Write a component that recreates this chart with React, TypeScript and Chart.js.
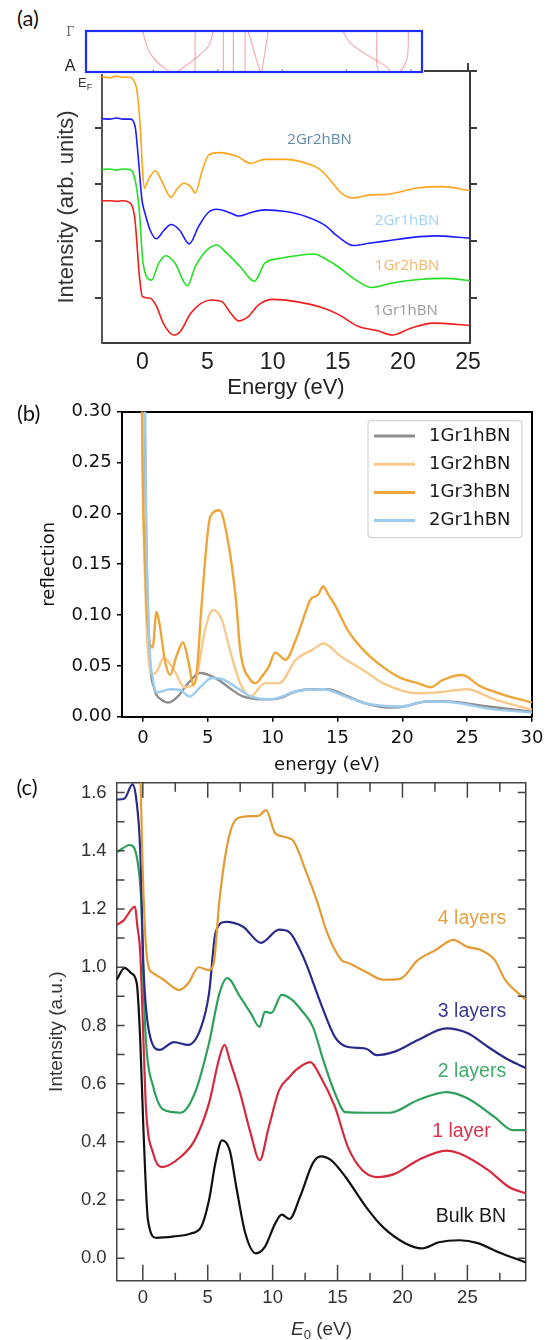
import React, { useEffect, useRef } from "react";
import { Chart, registerables } from "chart.js";

Chart.register(...registerables);

// ---------------- Panel (a) data ----------------
const a_xTicks = [0, 5, 10, 15, 20, 25];
const a_yTicks = [0.8, 1.8, 2.8, 3.8];
const a_yTicksRight = [0.8, 1.8, 2.8, 3.8, 4.8];

const a_2Gr2_x = [-3.1, -2.5, -2.0, -1.5, -0.93, -0.6, -0.42, -0.16, 0.0, 0.15, 0.45, 1.0, 1.5, 2.2, 2.7, 3.2, 3.7, 4.06, 4.6, 5.1, 5.9, 7.3, 8.3, 9.4, 11, 12.6, 13.7, 14.5, 15.3, 16.1, 17.4, 19, 21.2, 23, 25.15];
const a_2Gr2_y = [4.70, 4.68, 4.71, 4.69, 4.69, 4.60, 4.46, 3.81, 3.10, 2.73, 2.88, 3.04, 2.85, 2.57, 2.73, 2.82, 2.76, 2.65, 3.05, 3.32, 3.36, 3.29, 3.17, 3.24, 3.24, 3.17, 3.05, 2.85, 2.64, 2.56, 2.61, 2.63, 2.74, 2.76, 2.69];

const a_2Gr1_x = [-3.1, -2.5, -2, -1.5, -0.93, -0.55, -0.3, -0.03, 0.2, 0.6, 1.07, 1.66, 2.2, 2.86, 3.6, 4.3, 5, 5.7, 6.7, 7.4, 8.3, 9.4, 11, 12.6, 14, 15, 16.2, 17.4, 19, 20.6, 22.4, 25.15];
const a_2Gr1_y = [3.96, 3.95, 3.97, 3.95, 3.95, 3.81, 3.23, 2.52, 2.29, 1.99, 1.84, 1.99, 2.09, 1.99, 1.75, 2.05, 2.29, 2.36, 2.30, 2.24, 2.30, 2.35, 2.32, 2.23, 2.08, 1.88, 1.72, 1.76, 1.81, 1.86, 1.89, 1.85];

const a_1Gr2_x = [-3.1, -2.5, -2, -1.5, -0.93, -0.55, -0.24, 0.05, 0.7, 1.26, 1.8, 2.5, 3.45, 4.06, 4.6, 5.1, 5.7, 6.5, 7.5, 8.6, 9.4, 10.5, 11.8, 13.2, 14, 15, 16.4, 17.6, 19, 21.2, 23.3, 25.15];
const a_1Gr2_y = [3.06, 3.07, 3.05, 3.07, 3.06, 2.87, 2.35, 1.41, 1.11, 1.41, 1.54, 1.41, 1.01, 1.35, 1.55, 1.67, 1.73, 1.58, 1.35, 1.09, 1.41, 1.49, 1.54, 1.57, 1.49, 1.35, 1.11, 0.98, 1.05, 1.12, 1.14, 1.10];

const a_1Gr1_x = [-3.1, -2.5, -2, -1.5, -1.1, -0.6, -0.2, 0, 0.6, 1.1, 1.6, 2.4, 2.9, 3.7, 4.5, 5.3, 6.1, 6.8, 7.4, 8.1, 8.9, 10, 11.8, 13.7, 15, 16.6, 18, 19.2, 20.6, 22.3, 25.15];
const a_1Gr1_y = [2.51, 2.51, 2.50, 2.51, 2.49, 2.23, 1.11, 0.82, 0.79, 0.64, 0.35, 0.14, 0.20, 0.52, 0.70, 0.76, 0.73, 0.52, 0.39, 0.46, 0.67, 0.77, 0.73, 0.63, 0.51, 0.29, 0.22, 0.14, 0.26, 0.35, 0.31];

// band-structure inset (k along Γ–A, vertical 0 = A, 1 = Γ)
const bandTicks = [1, 2, 3, 4, 5];
const band1_x = [0.835, 0.922, 1.053, 1.26];
const band1_y = [1, 0.54, 0.25, 0];
const band2_x = [1.932, 1.87, 1.725, 1.519, 1.363];
const band2_y = [1, 0.67, 0.42, 0.17, 0];
const band3_x = [1.648, 1.648];
const band3_y = [1, 0];
const band4_x = [2.087, 2.087];
const band4_y = [1, 0];
const band5_x = [2.242, 2.242];
const band5_y = [1, 0];
const band6_x = [2.424, 2.424];
const band6_y = [1, 0];
const band7_x = [2.47, 2.657];
const band7_y = [1, 0];
const band8_x = [2.786, 2.683];
const band8_y = [1, 0];
const band9_x = [3.941, 4.055, 4.314, 4.624, 4.675];
const band9_y = [1, 0.71, 0.42, 0.125, 0];
const band10_x = [4.469, 4.469, 4.494];
const band10_y = [1, 0.2, 0];
const band11_x = [4.96, 4.944, 4.882, 4.82];
const band11_y = [1, 0.375, 0.125, 0];

// ---------------- Panel (b) data ----------------
const b_xTicks = [0, 5, 10, 15, 20, 25, 30];
const b_yTicks = [0, 0.05, 0.1, 0.15, 0.2, 0.25, 0.3];

const b_1Gr1_x = [-0.05, 0.15, 0.45, 0.9, 1.4, 2.0, 2.7, 3.5, 4.4, 5.6, 6.7, 7.7, 9.4, 10.5, 11.8, 13.1, 14.2, 15.8, 17.2, 19, 20.2, 21.8, 23.4, 26.6, 30];
const b_1Gr1_y = [0.8, 0.3, 0.08, 0.027, 0.017, 0.014, 0.02, 0.033, 0.043, 0.038, 0.028, 0.020, 0.017, 0.018, 0.025, 0.027, 0.027, 0.020, 0.013, 0.009, 0.010, 0.015, 0.015, 0.010, 0.005];

const b_1Gr2_x = [-0.2, -0.05, 0.2, 0.5, 0.8, 1.1, 1.6, 2.4, 3.2, 4.0, 4.8, 5.4, 6.1, 6.7, 7.5, 8.3, 9.4, 10.5, 11.8, 13.1, 13.9, 15.3, 17.2, 18.5, 21.2, 22.8, 25, 27.1, 30];
const b_1Gr2_y = [0.7, 0.3, 0.12, 0.05, 0.042, 0.045, 0.058, 0.046, 0.029, 0.033, 0.086, 0.105, 0.095, 0.066, 0.033, 0.020, 0.033, 0.033, 0.056, 0.066, 0.072, 0.059, 0.044, 0.033, 0.023, 0.024, 0.027, 0.017, 0.007];

const b_1Gr3_x = [-0.2, -0.06, 0.15, 0.45, 0.75, 1.05, 1.3, 1.7, 2.1, 2.6, 3.1, 3.5, 3.9, 4.2, 4.5, 5.2, 5.9, 6.5, 7.2, 7.5, 8.3, 8.7, 9.2, 9.7, 10.2, 11, 11.8, 12.6, 12.9, 13.5, 13.9, 14.3, 14.8, 15.8, 17.2, 18.5, 19.9, 21.2, 22.2, 23.1, 24.6, 26, 27.7, 30];
const b_1Gr3_y = [0.7, 0.3, 0.16, 0.08, 0.068, 0.103, 0.09, 0.055, 0.041, 0.06, 0.073, 0.055, 0.031, 0.05, 0.105, 0.197, 0.203, 0.177, 0.112, 0.066, 0.036, 0.033, 0.04, 0.049, 0.063, 0.056, 0.076, 0.105, 0.115, 0.12, 0.128, 0.12, 0.11, 0.085, 0.063, 0.049, 0.038, 0.033, 0.029, 0.036, 0.041, 0.030, 0.022, 0.014];

const b_2Gr1_x = [0.0, 0.17, 0.45, 0.8, 1.05, 2.1, 2.9, 3.6, 4.5, 5.3, 6.1, 7.3, 8.3, 9.9, 11.8, 13.9, 15.8, 17.2, 19.9, 21.8, 24, 26.6, 30];
const b_2Gr1_y = [0.8, 0.3, 0.09, 0.035, 0.024, 0.027, 0.026, 0.020, 0.030, 0.038, 0.037, 0.028, 0.020, 0.017, 0.025, 0.027, 0.019, 0.013, 0.010, 0.015, 0.014, 0.008, 0.004];

// ---------------- Panel (c) data ----------------
const c_xTicks = [0, 5, 10, 15, 20, 25];
const c_xMinor = [2.5, 7.5, 12.5, 17.5, 22.5, 27.5];
const c_yTicks = [0, 0.2, 0.4, 0.6, 0.8, 1.0, 1.2, 1.4, 1.6];
const c_yMinor = [0, 0.1, 0.2, 0.3, 0.4, 0.5, 0.6, 0.7, 0.8, 0.9, 1.0, 1.1, 1.2, 1.3, 1.4, 1.5, 1.6];

const c_bulk_x = [-2.02, -1.4, -0.9, -0.47, -0.2, 0.05, 0.4, 1.05, 2.4, 3.7, 4.5, 5.1, 5.6, 6.1, 6.7, 7.2, 7.9, 8.7, 9.4, 10.2, 10.7, 11.3, 12.1, 13.1, 13.7, 14.5, 15.6, 17.2, 18.5, 20.2, 21.5, 22.8, 24.4, 25.8, 27.4, 29.5];
const c_bulk_y = [0.957, 0.998, 0.98, 0.946, 0.75, 0.44, 0.13, 0.07, 0.075, 0.085, 0.108, 0.2, 0.33, 0.405, 0.37, 0.245, 0.085, 0.017, 0.039, 0.12, 0.15, 0.135, 0.21, 0.327, 0.35, 0.337, 0.28, 0.176, 0.107, 0.052, 0.034, 0.055, 0.062, 0.052, 0.021, -0.014];

const c_1L_x = [-2.02, -1.5, -0.6, -0.42, -0.2, 0.1, 0.25, 0.8, 1.45, 2.9, 4.0, 5.1, 5.9, 6.3, 6.7, 7.5, 8.3, 9.0, 9.7, 10.5, 11.3, 11.8, 12.9, 13.7, 14.8, 15.8, 16.9, 18, 19.4, 21.2, 23.4, 24.4, 26.6, 28.2, 29.5];
const c_1L_y = [1.145, 1.16, 1.208, 1.14, 1.05, 0.68, 0.51, 0.36, 0.313, 0.348, 0.406, 0.533, 0.69, 0.733, 0.68, 0.567, 0.43, 0.337, 0.45, 0.578, 0.623, 0.647, 0.674, 0.623, 0.52, 0.382, 0.303, 0.279, 0.29, 0.337, 0.37, 0.36, 0.303, 0.245, 0.223];

const c_2L_x = [-2.02, -1.0, -0.3, -0.1, 0.05, 0.25, 0.8, 1.6, 2.9, 4.0, 5.1, 5.9, 6.5, 7.5, 8.3, 9.0, 9.4, 9.9, 10.7, 11.5, 12.2, 13.1, 13.9, 14.8, 15.6, 17.2, 19, 21.2, 23.4, 25, 27.1, 28.5, 29.5];
const c_2L_y = [1.394, 1.42, 1.33, 1.2, 0.95, 0.74, 0.59, 0.51, 0.5, 0.567, 0.74, 0.91, 0.963, 0.898, 0.843, 0.795, 0.847, 0.843, 0.905, 0.888, 0.853, 0.795, 0.681, 0.567, 0.502, 0.5, 0.5, 0.544, 0.571, 0.55, 0.485, 0.44, 0.44];

const c_3L_x = [-2.02, -1.4, -0.8, -0.5, -0.2, 0.05, 0.5, 1.3, 2.4, 3.5, 4.5, 5.1, 5.6, 6.4, 7.7, 9.1, 10.5, 11.3, 12.1, 12.6, 13.1, 13.7, 14.8, 15.8, 17.2, 18, 19.4, 21.2, 23.4, 25, 26.6, 28.2, 29.5];
const c_3L_y = [1.576, 1.58, 1.628, 1.576, 1.4, 1.0, 0.774, 0.716, 0.743, 0.733, 0.795, 0.91, 1.118, 1.156, 1.14, 1.084, 1.129, 1.12, 1.06, 1.01, 0.95, 0.877, 0.76, 0.726, 0.72, 0.698, 0.71, 0.75, 0.79, 0.774, 0.726, 0.681, 0.654];

const c_4L_x = [-0.25, -0.05, 0.2, 0.45, 0.8, 1.6, 2.8, 3.5, 4.3, 5.1, 5.5, 5.9, 6.7, 7.7, 8.9, 9.5, 10.2, 11.5, 12.6, 13.4, 14.2, 15.3, 15.8, 17.2, 18.5, 19.8, 21.2, 22.6, 23.9, 25, 26, 27.1, 27.9, 29.5];
const c_4L_y = [1.8, 1.4, 1.1, 1.0, 0.98, 0.957, 0.922, 0.945, 1.0, 0.99, 1.025, 1.23, 1.46, 1.517, 1.52, 1.54, 1.46, 1.438, 1.325, 1.23, 1.118, 1.025, 1.015, 0.984, 0.957, 0.96, 1.025, 1.06, 1.094, 1.07, 1.06, 1.025, 0.957, 0.888];

// ---------------- helpers ----------------
const FA = "'Liberation Sans', Arial, sans-serif";
const FD = "'DejaVu Sans', sans-serif";

const pts = (xs: number[], ys: number[]) => xs.map((x, i) => ({ x, y: ys[i] }));

function line(label: string, xs: number[], ys: number[], color: string, width: number, extra: any = {}) {
  return {
    label,
    data: pts(xs, ys),
    borderColor: color,
    backgroundColor: color,
    borderWidth: width,
    pointRadius: 0,
    pointHoverRadius: 0,
    showLine: true,
    fill: false,
    cubicInterpolationMode: "monotone",
    borderJoinStyle: "round",
    ...extra,
  };
}

const tickList = (vals: number[]) => (s: any) => {
  s.ticks = vals.map((v) => ({ value: v }));
};
const fixSize = (w?: number, h?: number) => (s: any) => {
  if (w !== undefined) s.width = w;
  if (h !== undefined) s.height = h;
  s.paddingLeft = 0;
  s.paddingRight = 0;
  s.paddingTop = 0;
  s.paddingBottom = 0;
};

const common = {
  animation: false,
  responsive: false,
  maintainAspectRatio: false,
  devicePixelRatio: 1,
  events: [],
  layout: { padding: 0 },
  plugins: { legend: { display: false }, tooltip: { enabled: false }, title: { display: false } },
};

type TickSpec = { scale: string; side: string; values: number[]; len: number };
const innerTicks = (specs: TickSpec[], color: string, width: number) => ({
  id: "innerTicks",
  afterDatasetsDraw(chart: any) {
    const ctx = chart.ctx;
    const a = chart.chartArea;
    ctx.save();
    ctx.strokeStyle = color;
    ctx.lineWidth = width;
    ctx.beginPath();
    for (const sp of specs) {
      const sc = chart.scales[sp.scale];
      for (const v of sp.values) {
        const p = sc.getPixelForValue(v);
        if (sp.side === "bottom") { ctx.moveTo(p, a.bottom); ctx.lineTo(p, a.bottom - sp.len); }
        else if (sp.side === "top") { ctx.moveTo(p, a.top); ctx.lineTo(p, a.top + sp.len); }
        else if (sp.side === "left") { ctx.moveTo(a.left, p); ctx.lineTo(a.left + sp.len, p); }
        else { ctx.moveTo(a.right, p); ctx.lineTo(a.right - sp.len, p); }
      }
    }
    ctx.stroke();
    ctx.restore();
  },
});

// ---------------- chart builders ----------------
function buildA() {
  const axisCol = "#3c3c3c";
  const gridY = { drawOnChartArea: false, drawTicks: true, tickLength: 7, color: axisCol, lineWidth: 2 };
  return {
    type: "scatter",
    data: {
      datasets: [
        line("2Gr2hBN", a_2Gr2_x, a_2Gr2_y, "#ffa41c", 1.6),
        line("2Gr1hBN", a_2Gr1_x, a_2Gr1_y, "#1c1cff", 1.6),
        line("1Gr2hBN", a_1Gr2_x, a_1Gr2_y, "#22e022", 1.6),
        line("1Gr1hBN", a_1Gr1_x, a_1Gr1_y, "#f21c1c", 1.6),
      ],
    },
    options: {
      ...common,
      scales: {
        x: {
          type: "linear", position: "bottom", min: -3.1, max: 25.15,
          afterBuildTicks: tickList(a_xTicks), afterFit: fixSize(undefined, 62),
          grid: { drawOnChartArea: false, drawTicks: false },
          border: { display: true, color: axisCol, width: 2 },
          ticks: { color: "#222", font: { family: FA, size: 23 }, padding: 6, maxRotation: 0, autoSkip: false, callback: (v: any) => String(v) },
          title: { display: true, text: "Energy (eV)", color: "#222", font: { family: FA, size: 22 }, padding: { top: 0, bottom: 3.8 } },
        },
        xTop: {
          type: "linear", axis: "x", position: "top", min: -3.1, max: 25.15,
          afterBuildTicks: tickList([25]), afterFit: fixSize(undefined, 11),
          grid: { drawOnChartArea: false, drawTicks: true, tickLength: 8, color: axisCol, lineWidth: 2 },
          border: { display: true, color: axisCol, width: 2 },
          ticks: { display: false },
        },
        y: {
          type: "linear", position: "left", min: 0, max: 4.8,
          afterBuildTicks: tickList(a_yTicks), afterFit: fixSize(102),
          grid: gridY,
          border: { display: true, color: "#555", width: 2 },
          ticks: { display: false },
          title: { display: true, text: "Intensity (arb. units)", color: "#333", font: { family: FA, size: 22 }, padding: { top: 53.5, bottom: 0 } },
        },
        yR: {
          type: "linear", axis: "y", position: "right", min: 0, max: 4.8,
          afterBuildTicks: tickList(a_yTicksRight), afterFit: fixSize(76),
          grid: gridY,
          border: { display: true, color: axisCol, width: 2 },
          ticks: { display: false },
        },
      },
    },
  };
}

function buildBand() {
  const col = "rgba(238,105,118,0.55)";
  const curved = { tension: 0.35, cubicInterpolationMode: "default" };
  const straight = { tension: 0, cubicInterpolationMode: "default" };
  return {
    type: "scatter",
    data: {
      datasets: [
        line("b1", band1_x, band1_y, col, 1.2, curved),
        line("b2", band2_x, band2_y, col, 1.2, curved),
        line("b3", band3_x, band3_y, col, 1.2, straight),
        line("b4", band4_x, band4_y, col, 1.2, straight),
        line("b5", band5_x, band5_y, col, 1.2, straight),
        line("b6", band6_x, band6_y, col, 1.2, straight),
        line("b7", band7_x, band7_y, col, 1.2, straight),
        line("b8", band8_x, band8_y, col, 1.2, straight),
        line("b9", band9_x, band9_y, col, 1.2, curved),
        line("b10", band10_x, band10_y, col, 1.2, curved),
        line("b11", band11_x, band11_y, col, 1.2, curved),
      ],
    },
    options: {
      ...common,
      layout: { padding: { left: 2, right: 2, top: 2, bottom: 2 } },
      scales: {
        x: { type: "linear", display: false, min: -0.045, max: 5.17 },
        y: { type: "linear", display: false, min: 0, max: 1 },
      },
    },
    plugins: [
      {
        id: "bandFrame",
        afterDraw(chart: any) {
          const ctx = chart.ctx;
          const a = chart.chartArea;
          const sx = chart.scales.x;
          ctx.save();
          ctx.strokeStyle = "#666";
          ctx.lineWidth = 1;
          ctx.beginPath();
          for (const v of bandTicks) {
            const p = sx.getPixelForValue(v);
            ctx.moveTo(p, a.bottom);
            ctx.lineTo(p, a.bottom - 2.5);
          }
          ctx.stroke();
          ctx.strokeStyle = "#1f2cff";
          ctx.lineWidth = 2.2;
          ctx.strokeRect(a.left, a.top, a.right - a.left, a.bottom - a.top);
          ctx.restore();
        },
      },
    ],
  };
}

function buildB() {
  const grid = { drawOnChartArea: false, drawTicks: true, tickLength: 5, color: "#000", lineWidth: 1.5 };
  const legendOrder = [0, 1, 2, 3];
  return {
    type: "scatter",
    data: {
      datasets: [
        line("1Gr1hBN", b_1Gr1_x, b_1Gr1_y, "#8d8d8d", 2.4, { order: 4 }),
        line("1Gr2hBN", b_1Gr2_x, b_1Gr2_y, "#f8c98c", 2.4, { order: 3 }),
        line("1Gr3hBN", b_1Gr3_x, b_1Gr3_y, "#eda63a", 2.4, { order: 2 }),
        line("2Gr1hBN", b_2Gr1_x, b_2Gr1_y, "#9ccbed", 2.4, { order: 1 }),
      ],
    },
    options: {
      ...common,
      scales: {
        x: {
          type: "linear", position: "bottom", min: -1.61, max: 30,
          afterBuildTicks: tickList(b_xTicks), afterFit: fixSize(undefined, 63.3),
          grid,
          border: { display: true, color: "#000", width: 2 },
          ticks: { color: "#111", font: { family: FD, size: 18 }, padding: 5.8, maxRotation: 0, autoSkip: false, callback: (v: any) => String(v) },
          title: { display: true, text: "energy (eV)", color: "#111", font: { family: FD, size: 18 }, padding: { top: 0, bottom: 4.2 } },
        },
        xTop: {
          type: "linear", axis: "x", position: "top", min: -1.61, max: 30,
          afterBuildTicks: tickList([30]), afterFit: fixSize(undefined, 16.7),
          grid: { drawOnChartArea: false, drawTicks: false },
          border: { display: true, color: "#000", width: 2 },
          ticks: { display: false },
        },
        y: {
          type: "linear", position: "left", min: 0, max: 0.3,
          afterBuildTicks: tickList(b_yTicks), afterFit: fixSize(122),
          grid,
          border: { display: true, color: "#000", width: 2 },
          ticks: { color: "#111", font: { family: FD, size: 18 }, padding: 5.3, autoSkip: false, callback: (v: any) => Number(v).toFixed(2) },
          title: { display: true, text: "reflection", color: "#111", font: { family: FD, size: 18 }, padding: { top: 38.8, bottom: 0 } },
        },
        yR: {
          type: "linear", axis: "y", position: "right", min: 0, max: 0.3,
          afterBuildTicks: tickList([0]), afterFit: fixSize(14),
          grid: { drawOnChartArea: false, drawTicks: false },
          border: { display: true, color: "#000", width: 2 },
          ticks: { display: false },
        },
      },
    },
    plugins: [
      {
        id: "legendB",
        afterDatasetsDraw(chart: any) {
          const ctx = chart.ctx;
          const a = chart.chartArea;
          const w = 154, h = 117, r = 4;
          const x0 = a.right - 10 - w;
          const y0 = a.top + 9;
          ctx.save();
          ctx.beginPath();
          ctx.moveTo(x0 + r, y0);
          ctx.lineTo(x0 + w - r, y0);
          ctx.quadraticCurveTo(x0 + w, y0, x0 + w, y0 + r);
          ctx.lineTo(x0 + w, y0 + h - r);
          ctx.quadraticCurveTo(x0 + w, y0 + h, x0 + w - r, y0 + h);
          ctx.lineTo(x0 + r, y0 + h);
          ctx.quadraticCurveTo(x0, y0 + h, x0, y0 + h - r);
          ctx.lineTo(x0, y0 + r);
          ctx.quadraticCurveTo(x0, y0, x0 + r, y0);
          ctx.closePath();
          ctx.fillStyle = "rgba(255,255,255,0.85)";
          ctx.fill();
          ctx.strokeStyle = "#d2d2d2";
          ctx.lineWidth = 1.2;
          ctx.stroke();
          ctx.font = `18px ${FD}`;
          ctx.textBaseline = "middle";
          legendOrder.forEach((idx, i) => {
            const ds = chart.data.datasets[idx];
            const yy = y0 + 15.3 + i * 28.2;
            ctx.strokeStyle = ds.borderColor;
            ctx.lineWidth = 3;
            ctx.beginPath();
            ctx.moveTo(x0 + 6, yy);
            ctx.lineTo(x0 + 47, yy);
            ctx.stroke();
            ctx.fillStyle = "#1a1a1a";
            ctx.fillText(ds.label, x0 + 61, yy);
          });
          ctx.restore();
        },
      },
    ],
  };
}

function buildC() {
  const axisCol = "#444";
  return {
    type: "scatter",
    data: {
      datasets: [
        line("4 layers", c_4L_x, c_4L_y, "#e39b33", 2.2),
        line("3 layers", c_3L_x, c_3L_y, "#2b2b8a", 2.2),
        line("2 layers", c_2L_x, c_2L_y, "#2e9f5c", 2.2),
        line("1 layer", c_1L_x, c_1L_y, "#d42a3d", 2.2),
        line("Bulk BN", c_bulk_x, c_bulk_y, "#111111", 2.2),
      ],
    },
    options: {
      ...common,
      scales: {
        x: {
          type: "linear", position: "bottom", min: -2.02, max: 29.5,
          afterBuildTicks: tickList(c_xTicks), afterFit: fixSize(undefined, 59.3),
          grid: { drawOnChartArea: false, drawTicks: false },
          border: { display: true, color: axisCol, width: 1.5 },
          ticks: { color: "#333", font: { family: FA, size: 18.5 }, padding: 5.7, maxRotation: 0, autoSkip: false, callback: (v: any) => String(v) },
        },
        xTop: {
          type: "linear", axis: "x", position: "top", min: -2.02, max: 29.5,
          afterBuildTicks: tickList([0]), afterFit: fixSize(undefined, 12.7),
          grid: { drawOnChartArea: false, drawTicks: false },
          border: { display: true, color: axisCol, width: 1.5 },
          ticks: { display: false },
        },
        y: {
          type: "linear", position: "left", min: -0.077, max: 1.634,
          afterBuildTicks: tickList(c_yTicks), afterFit: fixSize(116.6),
          grid: { drawOnChartArea: false, drawTicks: false },
          border: { display: true, color: axisCol, width: 1.5 },
          ticks: { color: "#333", font: { family: FA, size: 18.5 }, padding: 10, autoSkip: false, callback: (v: any) => Number(v).toFixed(1) },
          title: { display: true, text: "Intensity (a.u.)", color: "#333", font: { family: FA, size: 19 }, padding: { top: 45.1, bottom: 0 } },
        },
        yR: {
          type: "linear", axis: "y", position: "right", min: -0.077, max: 1.634,
          afterBuildTicks: tickList([0]), afterFit: fixSize(20.2),
          grid: { drawOnChartArea: false, drawTicks: false },
          border: { display: true, color: axisCol, width: 1.5 },
          ticks: { display: false },
        },
      },
    },
    plugins: [
      innerTicks(
        [
          { scale: "x", side: "bottom", values: c_xTicks, len: 16 },
          { scale: "x", side: "bottom", values: c_xMinor, len: 8 },
          { scale: "x", side: "top", values: c_xTicks, len: 15 },
          { scale: "x", side: "top", values: c_xMinor, len: 9 },
          { scale: "y", side: "left", values: c_yMinor, len: 8 },
          { scale: "y", side: "right", values: c_yMinor, len: 8 },
        ],
        axisCol,
        1.5
      ),
    ],
  };
}

// ---------------- components ----------------
function ChartCanvas({ build, left, top, width, height, bg }: any) {
  const ref = useRef<HTMLCanvasElement | null>(null);
  useEffect(() => {
    const chart = new Chart(ref.current as HTMLCanvasElement, build() as any);
    return () => chart.destroy();
  }, []);
  return (
    <canvas
      ref={ref}
      width={width}
      height={height}
      style={{ position: "absolute", left, top, width, height, background: bg || "transparent", display: "block" }}
    />
  );
}

function Txt({ x, y, children, style }: any) {
  return (
    <div
      style={{
        position: "absolute",
        left: x,
        top: y,
        transform: "translate(-50%, -50%)",
        whiteSpace: "nowrap",
        lineHeight: 1,
        ...style,
      }}
    >
      {children}
    </div>
  );
}

const aLabelFont = { fontFamily: "'Open Sans', sans-serif", fontSize: 15 };
const cLabelFont = { fontFamily: FA, fontSize: 19.5 };
const panelFont = { fontFamily: "Lato, 'Open Sans', sans-serif", fontSize: 22, color: "#111" };

export default function App() {
  return (
    <div style={{ position: "absolute", left: 0, top: 0, width: 546, height: 1340, background: "#fff", overflow: "hidden" }}>
      <ChartCanvas build={buildA} left={0} top={60} width={546} height={345} />
      <ChartCanvas build={buildBand} left={84} top={29} width={340} height={45} bg="#fff" />
      <ChartCanvas build={buildB} left={0} top={395} width={546} height={385} />
      <ChartCanvas build={buildC} left={0} top={770} width={546} height={570} />

      <Txt x={28} y={17.5} style={panelFont}>(a)</Txt>
      <Txt x={28.7} y={413} style={panelFont}>(b)</Txt>
      <Txt x={27} y={787} style={panelFont}>(c)</Txt>

      <Txt x={70.5} y={32} style={{ fontFamily: "'DejaVu Serif', serif", fontSize: 12, color: "#666" }}>Γ</Txt>
      <Txt x={70} y={66} style={{ fontFamily: FA, fontSize: 16, color: "#222" }}>A</Txt>
      <div style={{ position: "absolute", left: 78, top: 76.3, fontFamily: FA, fontSize: 13, lineHeight: 1, color: "#333", whiteSpace: "nowrap" }}>
        E<span style={{ fontSize: 9, position: "relative", top: 3 }}>F</span>
      </div>

      <Txt x={319.5} y={138} style={{ ...aLabelFont, color: "#5e88a8" }}>2Gr2hBN</Txt>
      <Txt x={407} y={219} style={{ ...aLabelFont, color: "#9fd2f7" }}>2Gr1hBN</Txt>
      <Txt x={407} y={264} style={{ ...aLabelFont, color: "#f5b56a" }}>1Gr2hBN</Txt>
      <Txt x={405.6} y={309} style={{ ...aLabelFont, color: "#9b9b9b" }}>1Gr1hBN</Txt>

      <Txt x={472} y={917.5} style={{ ...cLabelFont, color: "#e4a243" }}>4 layers</Txt>
      <Txt x={472} y={1010.8} style={{ ...cLabelFont, color: "#3b3b92" }}>3 layers</Txt>
      <Txt x={472} y={1070.8} style={{ ...cLabelFont, color: "#3dac68" }}>2 layers</Txt>
      <Txt x={461.4} y={1130.8} style={{ ...cLabelFont, color: "#d7334b" }}>1 layer</Txt>
      <Txt x={470.9} y={1215.8} style={{ ...cLabelFont, color: "#1a1a1a" }}>Bulk BN</Txt>

      <Txt x={321.5} y={1328} style={{ fontFamily: FA, fontSize: 19, color: "#333" }}>
        <span style={{ fontStyle: "italic" }}>E</span>
        <span style={{ fontSize: 13, position: "relative", top: 4 }}>0</span> (eV)
      </Txt>
    </div>
  );
}
